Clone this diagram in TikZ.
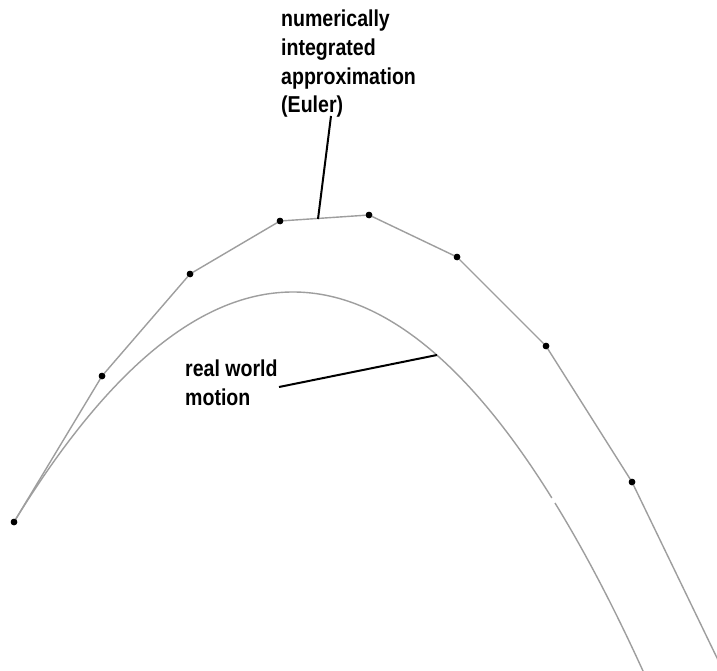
\documentclass[tikz,border=0pt]{standalone}
\usepackage{fontspec}
\setmainfont[FakeStretch=0.85]{Liberation Sans}
\begin{document}
\begin{tikzpicture}[x=1pt,y=-1pt,
  dot/.style={circle,fill=black,inner sep=0pt,minimum size=6.5pt},
  euler/.style={draw=black!38,line width=1.4pt,line join=round},
  real/.style={draw=black!38,line width=1.4pt},
  leader/.style={draw=black,line width=2pt},
  lbl/.style={align=left,inner sep=0pt,anchor=base west,font=\fontsize{23}{28.7}\selectfont\bfseries}]
\useasboundingbox[fill=white] (0,0) rectangle (717,671);
\begin{scope}
\clip (0,0) rectangle (717,671);
% real world motion curve
\draw[real] plot[domain=-2.79:2.59,samples=120,smooth] ({293+100*\x},{292+30.165*\x*\x+0.221*\x*\x*\x});
\draw[real] plot[domain=2.62:3.6,samples=30,smooth] ({293+100*\x},{292+30.165*\x*\x+0.221*\x*\x*\x});
% Euler points
\node[dot] (p1) at (14,522) {};
\node[dot] (p2) at (102,376) {};
\node[dot] (p3) at (190,274) {};
\node[dot] (p4) at (280,221) {};
\node[dot] (p5) at (369,215) {};
\node[dot] (p6) at (457,257) {};
\node[dot] (p7) at (546,346) {};
\node[dot] (p8) at (632,482) {};
\coordinate (p9) at (718,660);
\draw[euler] (p1.center) -- (p2.center) -- (p3.center) -- (p4.center) -- (p5.center)
  -- (p6.center) -- (p7.center) -- (p8.center) -- (p9);
\foreach \i in {1,...,8} \node[dot] at (p\i) {};
\end{scope}
% labels
\node[lbl] (euler) at (281,113) {numerically\\integrated\\approximation\\(Euler)};
\node[lbl] (realw) at (185,405) {real world\\motion};
\coordinate (e1) at (331,116);
\coordinate (e2) at (318,219);
\coordinate (r1) at (279,387);
\coordinate (r2) at (437,355);
\draw[leader] (e1) -- (e2);
\draw[leader] (r1) -- (r2);
\end{tikzpicture}
\end{document}
